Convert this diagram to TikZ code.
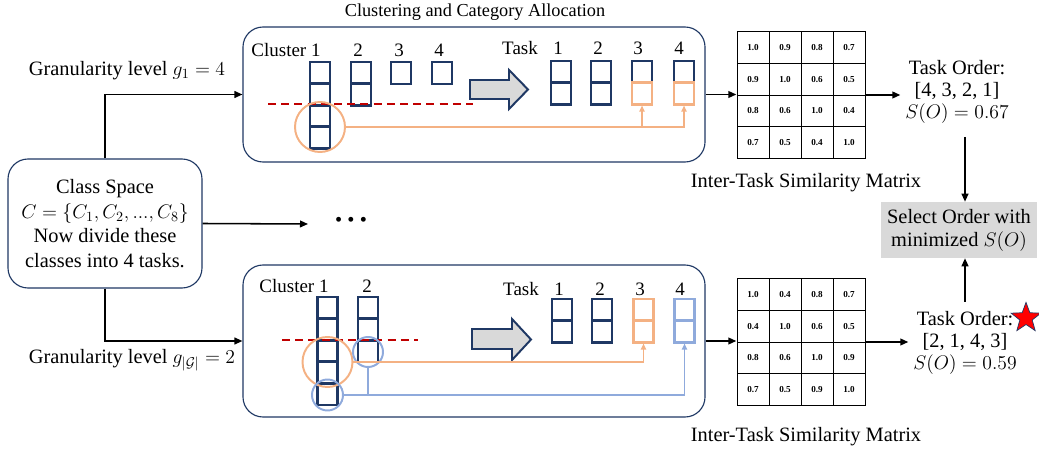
\RequirePackage{fix-cm}
\documentclass[tikz,border=0pt]{standalone}
\usepackage{amsmath,amssymb}
\usepackage{fontspec}
\setmainfont{Liberation Serif}
\DeclareMathSizes{14.5}{14}{10}{7}
\usepackage{tikz}
\usetikzlibrary{arrows.meta,positioning,shapes.geometric,matrix}
\definecolor{cellnavy}{RGB}{31,56,100}
\definecolor{pickorange}{RGB}{244,177,131}
\definecolor{pickblue}{RGB}{143,170,220}
\definecolor{cutred}{RGB}{192,0,0}
\definecolor{panelgray}{RGB}{217,217,217}

\begin{document}
\begin{tikzpicture}[x=0.25mm, y=-0.25mm,
      every node/.style={font=\fontsize{14.5}{17.5}\selectfont},
      lab/.style={font=\fontsize{13.5}{16}\selectfont},
      order/.style={align=center, font=\fontsize{14.5}{15.5}\selectfont},
      panel/.style={draw=cellnavy, line width=0.8pt, rounded corners=5mm, minimum width=115.5mm},
      cell/.style={draw=cellnavy, line width=1.8pt, minimum width=4.9mm, minimum height=5.4mm, inner sep=0pt},
      ocell/.style={cell, draw=pickorange},
      bcell/.style={cell, draw=pickblue},
      ring/.style={circle, line width=1.4pt, inner sep=0pt},
      conn/.style={line width=1.1pt, -{Triangle[length=2mm,width=1.7mm]}},
      pick/.style={line width=0.9pt, -{Triangle[length=1.5mm,width=1.3mm]}},
      cut/.style={draw=cutred, line width=1.2pt, dash pattern=on 2mm off 1.3mm},
      mcell/.style={draw, line width=0.6pt, minimum width=8mm, minimum height=7.9mm, inner sep=0pt, font=\fontsize{6.5}{7}\selectfont\bfseries},
      simmat/.style={matrix of nodes, inner sep=0pt, nodes={mcell}, column sep=-0.6pt, row sep=-0.6pt},
      bigarrow/.style={draw=cellnavy, line width=1.4pt, fill=panelgray, line join=miter}]
    \useasboundingbox (0,0) rectangle (1039,455);

    % panels
    \node[font=\fontsize{13}{16}\selectfont] (title) at (475,12) {Clustering and Category Allocation};
    \node[panel, minimum height=33.75mm] (top) at (474,94.5) {};
    \node[panel, minimum height=38mm] (bot) at (474,341) {};
    \node[panel, minimum width=48.5mm, minimum height=32.25mm, align=center] (cls) at (105,223.5) {Class Space\\ $C=\{C_1,C_2,...,C_8\}$\\ Now divide these\\ classes into 4 tasks.};
    \node (g1) at (127,71) {Granularity level $g_1 = 4$};
    \node (g2) at (132,360) {Granularity level $g_{|\mathcal{G}|} = 2$};

    \draw[conn] (cls.north) |- (top.west);
    \draw[conn] (cls.south) |- (bot.west);
    \coordinate (more) at (308,224);
    \draw[conn] (cls.east) -- (more);
    \node (dots) at (351,222) {\textbullet\hspace{1.3mm}\textbullet\hspace{1.3mm}\textbullet};

    % upper panel: clusters for g_1 = 4
    \node[lab] (cl1) at (286,50) {Cluster 1};
    \node[lab] (cl2) at (358,50) {2};
    \node[lab] (cl3) at (399,50) {3};
    \node[lab] (cl4) at (439,50) {4};
    \node[cell] (p1a) at (320,73) {};
    \node[cell] (p1b) at (320,94.5) {};
    \node[cell] (p1c) at (320,116) {};
    \node[cell] (p1d) at (320,137.5) {};
    \node[cell] (p2a) at (361,73) {};
    \node[cell] (p2b) at (361,94.5) {};
    \node[cell] (p3a) at (401,73) {};
    \node[cell] (p4a) at (442,73) {};
    \draw[cut] (268,104) -- (473,104);
    \node[ring, draw=pickorange, minimum size=12.5mm] (r1) at (320,127) {};
    \draw[bigarrow] (470,80) -- (509,80) -- (509,70) -- (528,89.5) -- (509,109) -- (509,99) -- (470,99) -- cycle;

    % upper panel: tasks
    \node[lab] (tk) at (520,48) {Task};
    \node[lab] (tk1) at (558,48) {1};
    \node[lab] (tk2) at (598,48) {2};
    \node[lab] (tk3) at (638,48) {3};
    \node[lab] (tk4) at (679,48) {4};
    \node[cell] (s1a) at (561,72) {};
    \node[cell] (s1b) at (561,93.5) {};
    \node[cell] (s2a) at (601,72) {};
    \node[cell] (s2b) at (601,93.5) {};
    \node[cell] (s3a) at (642,72) {};
    \node[ocell] (s3b) at (642,93.5) {};
    \node[cell] (s4a) at (684,72) {};
    \node[ocell] (s4b) at (684,93.5) {};
    \draw[pick, draw=pickorange] (r1.east) -| (s3b.south);
    \draw[pick, draw=pickorange] (r1.east) -| (s4b.south);

    % lower panel: clusters for g_|G| = 2
    \node[lab] (dl1) at (294,286) {Cluster 1};
    \node[lab] (dl2) at (367,286) {2};
    \node[cell] (q1a) at (327.5,308) {};
    \node[cell] (q1b) at (327.5,329.5) {};
    \node[cell] (q1c) at (327.5,351) {};
    \node[cell] (q1d) at (327.5,372.5) {};
    \node[cell] (q1e) at (327.5,394) {};
    \node[cell] (q2a) at (368,308) {};
    \node[cell] (q2b) at (368,329.5) {};
    \node[cell] (q2c) at (368,351) {};
    \draw[cut] (282,340) -- (418,340);
    \node[ring, draw=pickorange, minimum size=12.5mm] (r2) at (327.5,362) {};
    \node[ring, draw=pickblue, minimum size=7.5mm] (r3) at (368,352) {};
    \node[ring, draw=pickblue, minimum size=7.75mm] (r4) at (327.5,395) {};
    \draw[bigarrow] (472,329) -- (512,329) -- (512,319) -- (531,339.5) -- (512,360) -- (512,349) -- (472,349) -- cycle;

    % lower panel: tasks
    \node[lab] (uk) at (521,289) {Task};
    \node[lab] (uk1) at (559,289) {1};
    \node[lab] (uk2) at (600,289) {2};
    \node[lab] (uk3) at (640,289) {3};
    \node[lab] (uk4) at (680,289) {4};
    \node[cell] (t1a) at (562,310) {};
    \node[cell] (t1b) at (562,331.5) {};
    \node[cell] (t2a) at (602,310) {};
    \node[cell] (t2b) at (602,331.5) {};
    \node[ocell] (t3a) at (643.5,310) {};
    \node[ocell] (t3b) at (643.5,331.5) {};
    \node[bcell] (t4a) at (684.5,310) {};
    \node[bcell] (t4b) at (684.5,331.5) {};
    \draw[pick, draw=pickorange] (r2.east) -| (t3b.south);
    \draw[pick, draw=pickblue] (r4.east) -| (t4b.south);
    \draw[draw=pickblue, line width=0.9pt] (r3.south) -- (r3.south |- r4.east);

    % similarity matrices
    \matrix[simmat] (m1) at (801,95) {
      1.0 & 0.9 & 0.8 & 0.7\\
      0.9 & 1.0 & 0.6 & 0.5\\
      0.8 & 0.6 & 1.0 & 0.4\\
      0.7 & 0.5 & 0.4 & 1.0\\
    };
    \matrix[simmat] (m2) at (801,342) {
      1.0 & 0.4 & 0.8 & 0.7\\
      0.4 & 1.0 & 0.6 & 0.5\\
      0.8 & 0.6 & 1.0 & 0.9\\
      0.7 & 0.5 & 0.9 & 1.0\\
    };
    \node (lab1) at (806,183) {Inter-Task Similarity Matrix};
    \node (lab2) at (806,437) {Inter-Task Similarity Matrix};
    \draw[conn] (top.east) -- (top.east -| m1.west);
    \draw[conn] (bot.east) -- (bot.east -| m2.west);

    % task orders and selection
    \node[order] (ord1) at (957,92) {Task Order:\\ {[4, 3, 2, 1]}\\ $S(O) = 0.67$};
    \node[order] (ord2) at (965,343) {Task Order:\\ {[2, 1, 4, 3]}\\ $S(O) = 0.59$};
    \node[star, star points=5, star point ratio=2.4, fill=red, draw=cellnavy, line width=0.5pt, minimum size=7.8mm, inner sep=0pt] (best) at (1026,318) {};
    \draw[conn] (m1.east) -- (m1.east -| ord1.west);
    \draw[conn] (m2.east) -- (m2.east -| ord2.west);
    \node[fill=panelgray, minimum width=39mm, minimum height=14mm, align=center, font=\fontsize{14.5}{16.3}\selectfont] (sel) at (959,230) {Select Order with\\ minimized $S(O)$};
    \coordinate (fromA) at (965,137);
    \coordinate (fromB) at (965,302);
    \draw[conn] (fromA) -- (fromA |- sel.north);
    \draw[conn] (fromB) -- (fromB |- sel.south);
  \end{tikzpicture}
\end{document}
